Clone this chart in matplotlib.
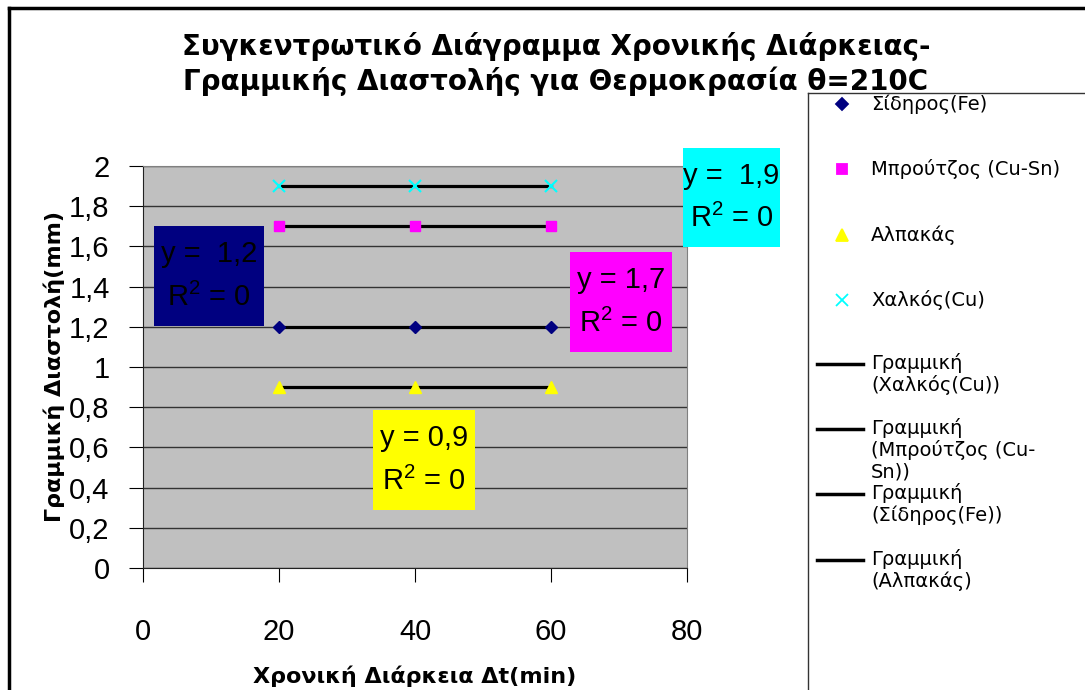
import matplotlib
matplotlib.use('Agg')
import matplotlib.pyplot as plt
from matplotlib.lines import Line2D
from matplotlib.patches import Rectangle

plt.rcParams['mathtext.fontset'] = 'custom'
plt.rcParams['mathtext.rm'] = 'Liberation Sans'
plt.rcParams['mathtext.it'] = 'Liberation Sans'

# data
time_min = [20, 40, 60]
iron = [1.2, 1.2, 1.2]
bronze = [1.7, 1.7, 1.7]
alpaka = [0.9, 0.9, 0.9]
copper = [1.9, 1.9, 1.9]

series_names = ['Σίδηρος(Fe)', 'Μπρούτζος (Cu-Sn)', 'Αλπακάς', 'Χαλκός(Cu)']
trend_names = ['Γραμμική\n(Χαλκός(Cu))', 'Γραμμική\n(Μπρούτζος (Cu-\nSn))',
               'Γραμμική\n(Σίδηρος(Fe))', 'Γραμμική\n(Αλπακάς)']
trend_labels = ['y =  1,2\nR$^{2}$ = 0', 'y = 1,7\nR$^{2}$ = 0',
                'y = 0,9\nR$^{2}$ = 0', 'y =  1,9\nR$^{2}$ = 0']

x_ticks = [0, 20, 40, 60, 80]
y_ticks = [0, 0.2, 0.4, 0.6, 0.8, 1, 1.2, 1.4, 1.6, 1.8, 2]
y_ticklabels = ['0', '0,2', '0,4', '0,6', '0,8', '1', '1,2', '1,4', '1,6', '1,8', '2']

W, H = 1085, 690
fig = plt.figure(figsize=(W / 100, H / 100), dpi=100)


def fx(px):
    return px / W


def fy(py):
    return 1 - py / H


ax = fig.add_axes([fx(143), fy(568), (687 - 143) / W, (568 - 166) / H])
ax.set_facecolor('#c0c0c0')
ax.set_xlim(0, 80)
ax.set_ylim(0, 2)
ax.set_xticks(x_ticks)
ax.set_xticklabels([str(v) for v in x_ticks], family='Liberation Sans', fontsize=21)
ax.set_yticks(y_ticks)
ax.set_yticklabels(y_ticklabels, family='Liberation Sans', fontsize=21)
ax.tick_params(axis='x', length=10, pad=26, direction='out')
ax.tick_params(axis='y', length=10, pad=14, direction='out')
ax.grid(axis='y', color='#333333', linewidth=1)
ax.set_axisbelow(True)
for side in ['top', 'right']:
    ax.spines[side].set_color('#808080')
for side in ['left', 'bottom']:
    ax.spines[side].set_color('#222222')

# trend lines
for vals in [copper, bronze, iron, alpaka]:
    ax.plot(time_min, vals, color='black', linewidth=2.3, zorder=3)

# scatter points
ax.plot(time_min, iron, linestyle='none', marker='D', color='#000080', markersize=6.5, zorder=4)
ax.plot(time_min, bronze, linestyle='none', marker='s', color='#ff00ff', markersize=7.5, zorder=4)
ax.plot(time_min, alpaka, linestyle='none', marker='^', color='#ffff00', markersize=9, zorder=4)
ax.plot(time_min, copper, linestyle='none', marker='x', color='#00ffff', markersize=9,
        markeredgewidth=1.5, zorder=4)

ax.set_xlabel('Χρονική Διάρκεια Δt(min)', family='DejaVu Sans', fontweight='bold',
              fontsize=16, labelpad=14)
ax.set_ylabel('Γραμμική Διαστολή(mm)', family='DejaVu Sans', fontweight='bold',
              fontsize=16, labelpad=3)

fig.text(fx(556), fy(64), 'Συγκεντρωτικό Διάγραμμα Χρονικής Διάρκειας-\n'
         'Γραμμικής Διαστολής για Θερμοκρασία θ=210C',
         ha='center', va='center', family='DejaVu Sans', fontweight='bold',
         fontsize=20, linespacing=1.2)

# trend equation boxes (pixel boxes: x0, y0, x1, y1)
boxes = [(154, 226, 264, 326, '#000080'), (570, 252, 672, 352, '#ff00ff'),
         (373, 410, 475, 510, '#ffff00'), (683, 148, 780, 247, '#00ffff')]
for (x0, y0, x1, y1, c), lab in zip(boxes, trend_labels):
    fig.add_artist(Rectangle((fx(x0), fy(y1)), (x1 - x0) / W, (y1 - y0) / H,
                             facecolor=c, edgecolor='none', transform=fig.transFigure, zorder=5))
    fig.text(fx((x0 + x1) / 2), fy((y0 + y1) / 2), lab, ha='center', va='center',
             family='Liberation Sans', fontsize=21, linespacing=1.6, zorder=6)

# outer frame and legend frame
fig.add_artist(Line2D([fx(9), fx(1085)], [fy(8), fy(8)], color='black', linewidth=2.5,
                      transform=fig.transFigure))
fig.add_artist(Line2D([fx(9), fx(9)], [fy(8), fy(690)], color='black', linewidth=2.5,
                      transform=fig.transFigure))
fig.add_artist(Line2D([fx(808), fx(1085)], [fy(93), fy(93)], color='#333333', linewidth=1,
                      transform=fig.transFigure))
fig.add_artist(Line2D([fx(808), fx(808)], [fy(93), fy(690)], color='#333333', linewidth=1,
                      transform=fig.transFigure))

# legend entries
marker_styles = [('D', '#000080', 6), ('s', '#ff00ff', 7), ('^', '#ffff00', 8),
                 ('x', '#00ffff', 8)]
marker_y = [104, 169, 235, 300]
for (m, c, s), name, py in zip(marker_styles, series_names, marker_y):
    fig.add_artist(Line2D([fx(842)], [fy(py)], marker=m, color=c, markersize=s,
                          linestyle='none', markeredgewidth=1.3, transform=fig.transFigure))
    fig.text(fx(871), fy(py), name, ha='left', va='center', family='DejaVu Sans', fontsize=14)

line_y = [364, 429, 494, 560]
for name, py in zip(trend_names, line_y):
    fig.add_artist(Line2D([fx(817), fx(863)], [fy(py), fy(py)], color='black', linewidth=2.5,
                          transform=fig.transFigure))
    fig.text(fx(871), fy(py - 11), name, ha='left', va='top', family='DejaVu Sans',
             fontsize=14, linespacing=1.15)

fig.savefig('out.png', dpi=100)
